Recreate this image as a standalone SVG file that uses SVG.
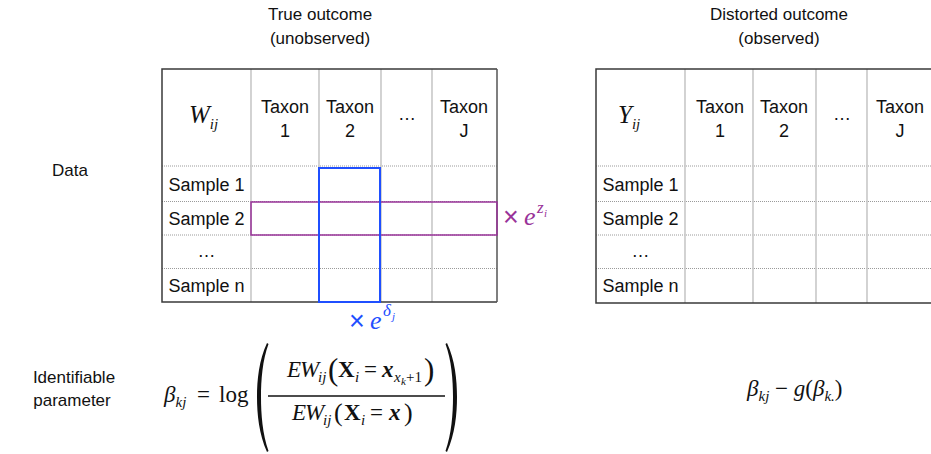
<svg xmlns="http://www.w3.org/2000/svg" width="931" height="454" viewBox="0 0 931 454">
<style>
.lbl{font-family:"Liberation Sans",Arial,Helvetica,sans-serif;font-size:17px;fill:#111}
.tl{font-family:"Liberation Sans",Arial,Helvetica,sans-serif;font-size:18px;fill:#111;text-anchor:middle}
.mid{text-anchor:middle}
.m{font-family:"Liberation Serif","Times New Roman",serif;font-style:italic;fill:#111}
.sx{font-family:"Liberation Sans",Arial,sans-serif}
.up{font-style:normal}
.bf{font-weight:bold;font-style:normal}
.bi{font-weight:bold;font-style:italic}
.col{stroke:#c8c8c8;stroke-width:1.6;fill:none}
.row{stroke:#9a9a9a;stroke-width:1;stroke-dasharray:1 1;fill:none}
.frame{stroke:#3a3a3a;stroke-width:1.5;fill:none}
</style>
<rect x="0" y="0" width="931" height="454" fill="#ffffff"/>

<g id="title-true">
<text class="lbl mid" x="320" y="20">True outcome</text>
<text class="lbl mid" x="320" y="44">(unobserved)</text>
</g>
<g id="title-distorted">
<text class="lbl mid" x="779" y="20">Distorted outcome</text>
<text class="lbl mid" x="779" y="44">(observed)</text>
</g>

<g id="label-data"><text class="lbl mid" x="70" y="176">Data</text></g>
<g id="label-identifiable">
<text class="lbl mid" x="74" y="383">Identifiable</text>
<text class="lbl mid" x="72" y="406">parameter</text>
</g>

<g id="table-true">
<path class="row" d="M162 166H497M162 201.5H497M162 235H497M162 268.5H497"/>
<path class="col" d="M251 69V302M319 69V302M381 69V302M432 69V302"/>
<path class="frame" d="M497 302H162V69H497"/>
<path d="M497 69V302" stroke="#555" stroke-width="1.5" fill="none"/>
<text class="m" x="189" y="123" style="font-size:25px">W<tspan dy="6" style="font-size:15px">ij</tspan></text>
<text class="tl" x="285" y="113">Taxon</text><text class="tl" x="285" y="137">1</text>
<text class="tl" x="350" y="113">Taxon</text><text class="tl" x="350" y="137">2</text>
<text class="tl" x="407" y="120">…</text>
<text class="tl" x="464" y="113">Taxon</text><text class="tl" x="464" y="137">J</text>
<text class="tl" x="206.5" y="191">Sample 1</text>
<text class="tl" x="206.5" y="225">Sample 2</text>
<text class="tl" x="206.5" y="257">…</text>
<text class="tl" x="206.5" y="292">Sample n</text>
</g>

<g id="highlight-row">
<rect x="251" y="202" width="246" height="33" fill="none" stroke="#993399" stroke-width="1.5"/>
<text class="sx" x="503" y="226" style="font-size:27px;font-weight:300;fill:#993399">×</text>
<text class="m" x="524" y="225" style="font-size:26px;fill:#993399">e</text>
<text class="m" x="537" y="213" style="font-size:17px;fill:#993399">z</text>
<text class="m" x="544" y="217" style="font-size:11px;fill:#993399">i</text>
</g>

<g id="highlight-col">
<rect x="319" y="168" width="61" height="134" fill="none" stroke="#1f4fff" stroke-width="2"/>
<text class="sx" x="349" y="330" style="font-size:27px;fill:#1f4fff">×</text>
<text class="m" x="370" y="329" style="font-size:26px;fill:#1f4fff">e</text>
<text class="m" x="383" y="316" style="font-size:17px;fill:#1f4fff">δ</text>
<text class="m" x="392" y="320" style="font-size:11px;fill:#1f4fff">j</text>
</g>

<g id="table-distorted">
<path class="row" d="M596 166H931M596 201.5H931M596 235H931M596 268.5H931"/>
<path class="col" d="M685 69V303M753 69V303M816 69V303M867 69V303"/>
<path class="frame" d="M932 303H596V69H932"/>
<text class="m" x="618" y="123" style="font-size:25px">Y<tspan dy="6" style="font-size:15px">ij</tspan></text>
<text class="tl" x="720" y="113">Taxon</text><text class="tl" x="720" y="137">1</text>
<text class="tl" x="784" y="113">Taxon</text><text class="tl" x="784" y="137">2</text>
<text class="tl" x="842" y="120">…</text>
<text class="tl" x="900" y="113">Taxon</text><text class="tl" x="900" y="137">J</text>
<text class="tl" x="640.5" y="191">Sample 1</text>
<text class="tl" x="640.5" y="225">Sample 2</text>
<text class="tl" x="640.5" y="257">…</text>
<text class="tl" x="640.5" y="292">Sample n</text>
</g>

<g id="formula-beta">
<text class="m" x="164" y="402" style="font-size:23px">β<tspan dy="5" style="font-size:15px">kj</tspan><tspan class="up" x="197" y="402">=</tspan><tspan class="up" x="219" y="402">log</tspan></text>
<path d="M267 343C259 360 257 380 257 397C257 414 259 434 267 452L268.5 451C262.5 434 261 414 261 397C261 380 262.5 360 268.5 344Z" fill="#111"/>
<path d="M447 343C455 360 457 380 457 397C457 414 455 434 447 452L445.5 451C451.5 434 453 414 453 397C453 380 451.5 360 445.5 344Z" fill="#111"/>
<line x1="268" y1="396" x2="445" y2="396" stroke="#111" stroke-width="1.6"/>
<text class="m" style="font-size:23px"><tspan x="287" y="377">E</tspan><tspan x="300" y="377">W</tspan><tspan x="318" y="382" style="font-size:15px">ij</tspan><tspan class="up" x="328" y="380" style="font-size:31px">(</tspan><tspan class="bf" x="338" y="377">X</tspan><tspan x="355" y="382" style="font-size:15px">i</tspan><tspan class="up" x="364" y="377">=</tspan><tspan class="bi" x="382" y="377">x</tspan><tspan x="394" y="382" style="font-size:15px">x</tspan><tspan x="401" y="385" style="font-size:11px">k</tspan><tspan class="up" x="406" y="382" style="font-size:15px">+1</tspan><tspan class="up" x="424" y="380" style="font-size:31px">)</tspan></text>
<text class="m" style="font-size:23px"><tspan x="292" y="420">E</tspan><tspan x="305" y="420">W</tspan><tspan x="323" y="425" style="font-size:15px">ij</tspan><tspan class="up" x="334" y="421" style="font-size:26px">(</tspan><tspan class="bf" x="344" y="420">X</tspan><tspan x="361" y="425" style="font-size:15px">i</tspan><tspan class="up" x="370" y="420">=</tspan><tspan class="bi" x="389" y="420">x</tspan><tspan class="up" x="404" y="421" style="font-size:26px">)</tspan></text>
</g>

<g id="formula-distorted">
<text class="m" x="747" y="396" style="font-size:23px">β<tspan dy="5" style="font-size:15px">kj</tspan><tspan class="up" dy="-5"> − </tspan>g<tspan class="up">(</tspan>β<tspan dy="5" style="font-size:15px">k.</tspan><tspan class="up" dy="-5">)</tspan></text>
</g>
</svg>
